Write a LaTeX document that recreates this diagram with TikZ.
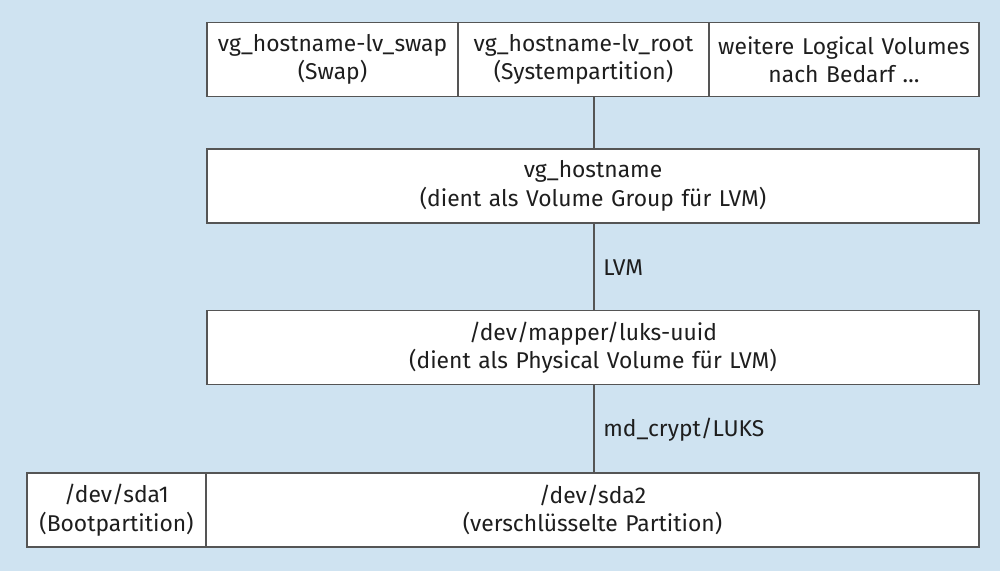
\documentclass[tikz,border=0pt]{standalone}
\usepackage{fontspec}
\setmainfont{Fira Sans}
\usetikzlibrary{positioning}
\definecolor{bgblue}{RGB}{207,227,241}
\definecolor{framegray}{RGB}{85,85,85}
\definecolor{textgray}{RGB}{30,30,30}
\tikzset{
  volbox/.style = {draw=framegray, line width=0.8pt, fill=white, rectangle, inner sep=0pt, align=center, text=textgray, font=\fontsize{13}{16.2}\selectfont, minimum height=74*0.569pt},
  layerlabel/.style = {anchor=west, inner sep=0pt, text=textgray, font=\fontsize{13}{16.2}\selectfont},
  link/.style = {draw=framegray, line width=0.8pt}
}

\begin{document}
\begin{tikzpicture}[x=0.02cm, y=-0.02cm]
      \fill[bgblue] (0,0) rectangle (1000,571);
      \useasboundingbox (0,0) rectangle (1000,571);
      \coordinate (axis) at (594,0);
      % logical volumes
      \node [volbox, text width=251*0.569pt] (swap) at (332.5,59.5) {vg\_hostname-lv\_swap\\(Swap)};
      \node [volbox, text width=251*0.569pt] (root) at (583.5,59.5) {vg\_hostname-lv\_root\\(Systempartition)};
      \node [volbox, text width=270*0.569pt] (more) at (844,59.5) {weitere Logical Volumes\\nach Bedarf \dots};
      % volume group
      \node [volbox, text width=772*0.569pt] (vg) at (593,186) {vg\_hostname\\(dient als Volume Group für LVM)};
      \node [volbox, text width=772*0.569pt] (luks) at (593,347.5) {/dev/mapper/luks-uuid\\(dient als Physical Volume für LVM)};
      % partitions
      \node [volbox, text width=179*0.569pt] (sda1) at (116.5,510) {/dev/sda1\\(Bootpartition)};
      \node [volbox, text width=773*0.569pt] (sda2) at (592.5,510) {/dev/sda2\\(verschlüsselte Partition)};
      \draw [link] (root.south -| axis) -- (vg.north -| axis);
      \draw [link] (vg.south -| axis) -- (luks.north -| axis);
      \draw [link] (luks.south -| axis) -- (sda2.north -| axis);
      \node [layerlabel] (lvm) at (603,268) {LVM};
      \node [layerlabel] (crypt) at (603,430) {md\_crypt/LUKS};
    \end{tikzpicture}
\end{document}
